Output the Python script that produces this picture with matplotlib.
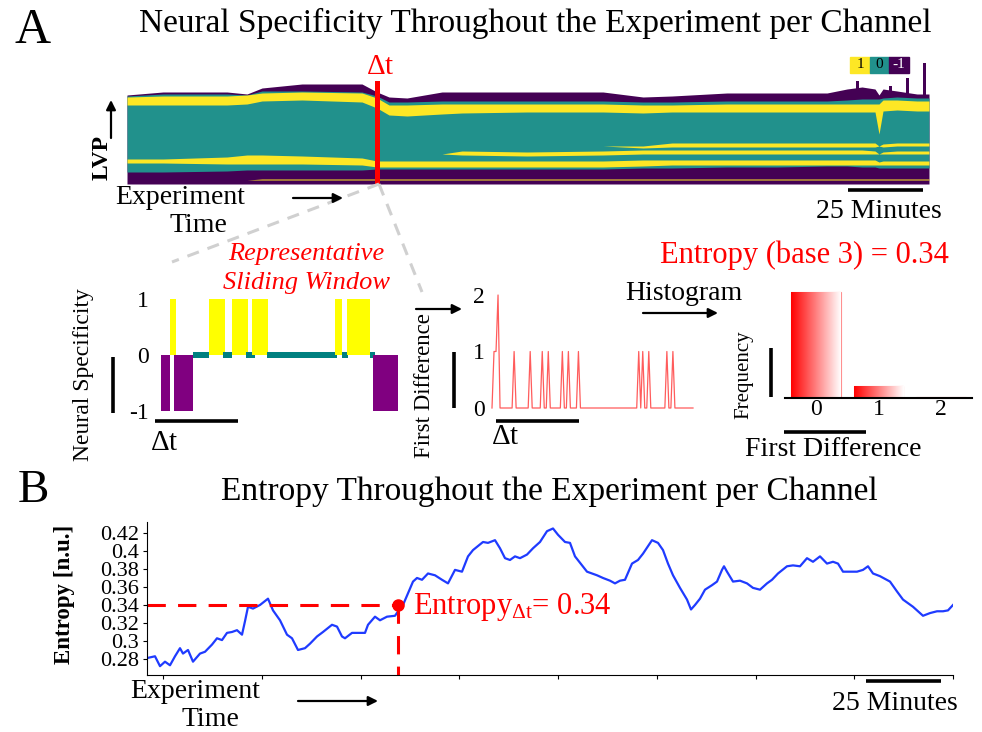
import numpy as np
import matplotlib
matplotlib.use('Agg')
import matplotlib.pyplot as plt
from matplotlib.patches import Rectangle
from matplotlib.colors import LinearSegmentedColormap

plt.rcParams['font.family'] = 'Liberation Serif'
plt.rcParams['mathtext.fontset'] = 'custom'
plt.rcParams['mathtext.rm'] = 'Liberation Serif'
plt.rcParams['mathtext.it'] = 'Liberation Serif:italic'

W, H = 982, 732

#
# heatmap: band edges (channel index) at time knots
#
hm_t        = [0, 36, 100, 120, 135, 175, 235, 250, 262, 280, 315, 335, 400, 476, 516, 545, 600, 650, 700, 720, 735, 748, 752, 756, 770, 790, 802]
hm_top      = [89, 92, 92, 90, 96, 100, 100, 92, 87, 86, 92, 92, 92, 92, 87, 88, 91, 91, 91, 95, 97, 95, 89, 95, 93, 90, 90]
hm_teal_top = [88, 90, 90, 89, 93, 93, 92, 88, 82, 82, 83, 83, 83, 83, 82, 82, 83, 83, 83, 84, 85, 85, 85, 86, 87, 86, 86]
hm_yu_hi    = [87, 88, 88, 89, 91, 92, 91, 86, 79, 79, 80, 80, 80, 80, 79, 79, 80, 80, 80, 80, 80, 80, 80, 84, 84, 83, 83]
hm_yu_lo    = [79, 79, 79, 80, 83, 84, 82, 76, 69, 68, 70, 71, 72, 72, 71, 72, 72, 72, 72, 72, 72, 72, 50, 73, 74, 73, 73]
hm_l1_hi    = [38, 38, 38, 38, 38, 38, 38, 38, 38, 38, 38, 38, 38, 38, 38, 41, 41, 41, 41, 41, 41, 41, 38, 40, 41, 41, 41]
hm_l1_lo    = [38, 38, 38, 38, 38, 38, 38, 38, 38, 38, 38, 38, 38, 38, 36, 37, 37, 37, 37, 37, 37, 37, 38, 37, 38, 38, 38]
hm_l2_hi    = [30, 30, 30, 30, 30, 30, 30, 30, 30, 30, 30, 33, 32, 33, 34, 34, 34, 34, 34, 34, 34, 33, 30, 32, 33, 33, 33]
hm_l2_lo    = [30, 30, 30, 30, 30, 30, 30, 30, 30, 30, 30, 29, 28, 29, 30, 30, 30, 30, 30, 30, 30, 30, 30, 30, 30, 30, 30]
hm_l3_hi    = [25, 25, 27, 29, 29, 28, 26, 23, 23, 23, 23, 23, 23, 23, 24, 24, 24, 24, 24, 24, 24, 24, 22, 23, 23, 23, 23]
hm_l3_lo    = [21, 21, 20, 20, 20, 20, 19, 17, 17, 17, 17, 17, 17, 17, 18, 19, 19, 19, 19, 19, 19, 19, 19, 19, 19, 19, 19]
hm_pb       = [12, 12, 13, 14, 14, 14, 14, 15, 15, 15, 15, 15, 15, 15, 16, 16, 17, 17, 18, 18, 17, 17, 16, 16, 16, 16, 16]
hm_yb_hi    = [4, 4, 4, 4, 5, 5, 5, 5, 5, 5, 5, 5, 5, 5, 5, 5, 5, 5, 5, 5, 5, 5, 5, 5, 5, 5, 5]
hm_yb_lo    = [4, 4, 4, 4, 4, 4, 4, 4, 4, 4, 4, 4, 4, 4, 4, 4, 4, 4, 4, 4, 4, 4, 4, 4, 4, 4, 4]
spike_t     = [730, 763, 780, 797]
spike_top   = [103, 98, 106, 121]
dt_pos      = 250

# sliding window: neural specificity segments (start, end, value)
ns_start = [0.0, 2.4, 3.2, 8.0, 12.2, 15.7, 17.9, 21.5, 23.1, 26.8, 44.1, 45.7, 47.2, 52.8, 53.7]
ns_end   = [2.4, 3.8, 8.0, 12.2, 16.1, 17.9, 22.0, 23.8, 27.0, 44.5, 45.7, 47.4, 52.8, 54.2, 60.0]
ns_value = [-1, 1, -1, 0, 1, 0, 1, 0, 1, 0, 1, 0, 1, 0, -1]

# first difference of the window
first_diff = [0, 1, 1, 2, 0, 0, 0, 0, 0, 0,
              0, 1, 0, 0, 0, 0, 0, 0, 0, 1,
              0, 0, 0, 0, 0, 1, 0, 0, 1, 0,
              0, 0, 0, 0, 0, 1, 0, 0, 1, 0,
              0, 0, 0, 1, 0, 0, 0, 0, 0, 0,
              0, 0, 0, 0, 0, 0, 0, 0, 0, 0,
              0, 0, 0, 0, 0, 0, 0, 0, 0, 0,
              0, 0, 0, 1, 0, 1, 0, 0, 1, 0,
              0, 0, 0, 0, 0, 0, 0, 1, 0, 0,
              1, 0, 0, 0, 0, 0, 0, 0, 0, 0, 0]
hist_bins = [0, 1, 2]
hist_counts = [88, 10, 1]

# entropy over the experiment
ent_t = [0, 8, 13, 18, 23, 28, 33, 36, 41, 46, 53, 58, 65, 70, 75, 80, 85, 90, 95, 98,
         101, 106, 113, 121, 126, 133, 140, 145, 151, 158, 163, 170, 176, 185, 190, 195, 198, 205, 211, 218,
         221, 228, 233, 240, 248, 253, 256, 261, 266, 270, 275, 281, 288, 295, 301, 308, 315, 321, 326, 336,
         341, 348, 353, 358, 363, 368, 373, 380, 386, 393, 400, 406, 411, 418, 423, 428, 435, 440, 445, 450,
         456, 463, 468, 473, 478, 485, 491, 496, 505, 511, 516, 521, 526, 533, 540, 544, 548, 553, 558, 565,
         570, 575, 577, 580, 586, 593, 600, 606, 613, 620, 625, 631, 640, 646, 653, 660, 666, 673, 680, 686,
         691, 696, 703, 710, 716, 721, 726, 733, 743, 750, 756, 766, 771, 776, 783, 790, 796, 801, 806]
ent_v = [0.281, 0.283, 0.272, 0.277, 0.273, 0.283, 0.292, 0.286, 0.290, 0.277, 0.286, 0.288, 0.296, 0.303, 0.301, 0.309, 0.310, 0.312, 0.307, 0.322,
         0.338, 0.336, 0.340, 0.347, 0.334, 0.323, 0.307, 0.303, 0.290, 0.292, 0.297, 0.305, 0.310, 0.318, 0.316, 0.305, 0.303, 0.309, 0.309, 0.309,
         0.318, 0.327, 0.323, 0.327, 0.328, 0.336, 0.340, 0.353, 0.366, 0.370, 0.368, 0.375, 0.373, 0.368, 0.364, 0.379, 0.377, 0.394, 0.401, 0.410,
         0.409, 0.412, 0.403, 0.392, 0.390, 0.394, 0.392, 0.396, 0.403, 0.410, 0.422, 0.425, 0.418, 0.410, 0.409, 0.394, 0.384, 0.377, 0.375, 0.373,
         0.370, 0.367, 0.364, 0.367, 0.368, 0.386, 0.390, 0.397, 0.412, 0.409, 0.401, 0.386, 0.373, 0.359, 0.346, 0.335, 0.340, 0.347, 0.357, 0.362,
         0.366, 0.379, 0.383, 0.377, 0.366, 0.367, 0.364, 0.359, 0.357, 0.364, 0.368, 0.375, 0.383, 0.384, 0.383, 0.392, 0.388, 0.394, 0.386, 0.388,
         0.386, 0.377, 0.377, 0.377, 0.379, 0.383, 0.375, 0.372, 0.366, 0.355, 0.346, 0.338, 0.333, 0.328, 0.331, 0.333, 0.333, 0.334, 0.340]
ent_dt_t = 251
ent_dt_v = 0.34
ent_yticks = [0.28, 0.3, 0.32, 0.34, 0.36, 0.38, 0.4, 0.42]

YEL, TEAL, PURP = '#fde725', '#21918c', '#440154'

fig = plt.figure(figsize=(W / 100, H / 100), dpi=100)


def px_axes(x0, y0, x1, y1):
	return fig.add_axes([x0 / W, 1 - y1 / H, (x1 - x0) / W, (y1 - y0) / H])


#
# A: heatmap
#
ax = px_axes(127, 62, 929, 184)
ax.fill_between(hm_t, 0, hm_top, color=PURP, lw=0)
ax.bar(spike_t, np.array(spike_top) - 85, bottom=85, width=3, color=PURP, lw=0)
ax.fill_between(hm_t, hm_pb, hm_teal_top, color=TEAL, lw=0)
for lo, hi in [(hm_yu_lo, hm_yu_hi), (hm_l1_lo, hm_l1_hi), (hm_l2_lo, hm_l2_hi),
               (hm_l3_lo, hm_l3_hi), (hm_yb_lo, hm_yb_hi)]:
	ax.fill_between(hm_t, lo, hi, color=YEL, lw=0)
ax.plot([dt_pos, dt_pos], [1, 101], color='red', lw=3.6, clip_on=False)
ax.set_xlim(0, 802)
ax.set_ylim(0, 122)
ax.axis('off')

#
# sliding window: neural specificity
#
ax = px_axes(161, 299, 398, 411)
ns_colors = {1: '#ffff00', 0: '#008080', -1: '#800080'}
for s, e, v in zip(ns_start, ns_end, ns_value):
	if v == 0:
		ax.bar(s, 0.11, width=e - s, bottom=-0.055, align='edge', color=ns_colors[v], lw=0)
	else:
		ax.bar(s, v, width=e - s, align='edge', color=ns_colors[v], lw=0)
ax.set_xlim(0, 60)
ax.set_ylim(-1, 1)
ax.set_xticks([])
ax.set_yticks([-1, 0, 1])
ax.set_yticklabels(['-1', '0', '1'], fontsize=17)
ax.tick_params(axis='y', length=0, pad=9)
for sp in ax.spines.values():
	sp.set_visible(False)
ax.patch.set_alpha(0)

#
# first difference
#
ax = px_axes(492, 295, 693, 408)
ax.plot(range(len(first_diff)), first_diff, color='#ff5c5c', lw=0.9, clip_on=False)
ax.set_xlim(0, 100)
ax.set_ylim(0, 2)
ax.set_xticks([])
ax.set_yticks([0, 1, 2])
ax.set_yticklabels(['0', '1', '2'], fontsize=17)
ax.tick_params(axis='y', length=0, pad=5)
for sp in ax.spines.values():
	sp.set_visible(False)
ax.patch.set_alpha(0)

#
# histogram with gradient bars
#
ax = px_axes(785, 290, 972, 398)
grad = LinearSegmentedColormap.from_list('redwhite', ['#ff0000', '#ffffff'])
bars = ax.bar(hist_bins, hist_counts, width=0.8, color='none', edgecolor='#ff9090', lw=0.8)
for b in bars:
	x0, y0 = b.get_x(), b.get_y()
	im = ax.imshow(np.linspace(0, 1, 256).reshape(1, -1), cmap=grad, aspect='auto',
	               extent=[x0, x0 + b.get_width(), y0, y0 + b.get_height()], zorder=1)
	im.set_clip_path(b)
ax.set_xlim(-0.5, 2.5)
ax.set_ylim(0, 90)
ax.set_xticks(hist_bins)
ax.set_xticklabels(['0', '1', '2'], fontsize=17)
ax.set_yticks([])
ax.tick_params(axis='x', length=0, pad=1)
for k in ['left', 'top', 'right']:
	ax.spines[k].set_visible(False)
ax.spines['bottom'].set_linewidth(1.5)
ax.patch.set_alpha(0)

#
# B: entropy line
#
ax = px_axes(147, 522, 953, 675)
ax.plot(ent_t, ent_v, color='#1f3bff', lw=1.6)
ax.plot([0, ent_dt_t], [ent_dt_v, ent_dt_v], color='red', lw=2.2, dashes=(6, 4))
ax.plot([ent_dt_t, ent_dt_t], [ent_dt_v, 0.2622], color='red', lw=2.2, dashes=(6, 4))
ax.plot([ent_dt_t], [ent_dt_v], 'o', color='red', ms=8)
ax.set_xlim(0, 806)
ax.set_ylim(0.2622, 0.4322)
ax.set_xticks(np.arange(16, 807, 98.75))
ax.set_xticklabels([])
ax.set_yticks(ent_yticks)
ax.set_yticklabels(['0.28', '0.3', '0.32', '0.34', '0.36', '0.38', '0.4', '0.42'], fontsize=16)
ax.tick_params(length=3, width=0.8, pad=3)
ax.spines['top'].set_visible(False)
ax.spines['right'].set_visible(False)
ax.patch.set_alpha(0)

#
# overlay: labels, arrows, scale bars
#
ov = fig.add_axes([0, 0, 1, 1], zorder=10)
ov.set_xlim(0, W)
ov.set_ylim(H, 0)
ov.axis('off')


def txt(x, y, s, size, **kw):
	ov.text(x, y, s, fontsize=size, ha=kw.pop('ha', 'center'), va=kw.pop('va', 'center'), **kw)


def arrow(x0, y0, x1, y1):
	ov.annotate('', xy=(x1, y1), xytext=(x0, y0),
	            arrowprops=dict(arrowstyle='-|>', color='black', lw=1.6, mutation_scale=14, shrinkA=0, shrinkB=0))


def bar(x0, y0, x1, y1):
	ov.plot([x0, x1], [y0, y1], color='black', lw=2.6, solid_capstyle='butt')


txt(33, 31, 'A', 36)
txt(535, 23, 'Neural Specificity Throughout the Experiment per Channel', 24)
txt(380, 67, r'$\Delta$t', 21, color='red')
txt(102, 158, 'LVP', 17, rotation=90, weight='bold')
arrow(111, 138, 111, 100)
txt(115, 197, 'Experiment', 20, ha='left')
arrow(293, 198, 343, 198)
txt(198, 226, 'Time', 20)
bar(848, 190, 923, 190)
txt(879, 211, '25 Minutes', 20)

ov.add_patch(Rectangle((850, 57), 20, 16, color=YEL))
ov.add_patch(Rectangle((870, 57), 19, 16, color=TEAL))
ov.add_patch(Rectangle((889, 57), 20, 16, color=PURP))
txt(860, 65, '1', 11)
txt(879.5, 65, '0', 11)
txt(899, 65, '-1', 11, color='white')

ov.plot([379, 172], [184, 262], color='#d0d0d0', lw=2.2, dashes=(4, 3))
ov.plot([379, 422], [184, 292], color='#d0d0d0', lw=2.2, dashes=(4, 3))
txt(306, 254, 'Representative', 19, color='red', style='italic')
txt(307, 283, 'Sliding Window', 19, color='red', style='italic')

txt(84, 375, 'Neural Specificity', 17, rotation=90)
bar(113, 357, 113, 413)
bar(155, 421, 238, 421)
txt(164, 443, r'$\Delta$t', 21)

txt(425, 386, 'First Difference', 16.5, rotation=90)
arrow(416, 309, 462, 309)
bar(454, 352, 454, 408)
bar(496, 421, 579, 421)
txt(505, 437, r'$\Delta$t', 21)

txt(804, 255, 'Entropy (base 3) = 0.34', 22, color='red')
txt(684, 293, 'Histogram', 20)
arrow(643, 313, 718, 313)
txt(744, 375, 'Frequency', 15, rotation=90)
bar(771, 348, 771, 397)
bar(784, 432, 866, 432)
txt(833, 450, 'First Difference', 20)

txt(33, 491, 'B', 34)
txt(549, 492, 'Entropy Throughout the Experiment per Channel', 24)
txt(65, 594, 'Entropy [n.u.]', 16.5, rotation=90, weight='bold')
txt(413, 607, r'Entropy$_{\Delta \mathrm{t}}$= 0.34', 22, color='red', ha='left')
txt(130, 692, 'Experiment', 20, ha='left')
arrow(298, 701, 378, 701)
txt(210, 719, 'Time', 20)
bar(866, 681, 941, 681)
txt(895, 703, '25 Minutes', 20)

fig.savefig('out.png', dpi=100)
